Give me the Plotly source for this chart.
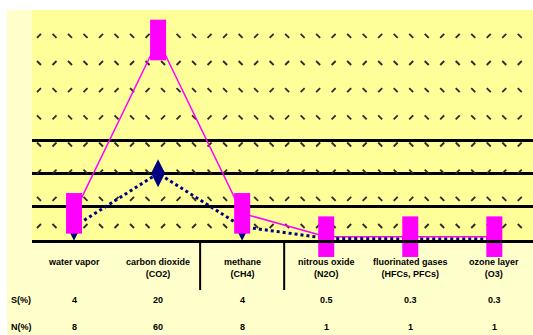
import numpy as np
import plotly.graph_objects as go

# Categories and the two series shown in the chart and its data table
categories = ["water vapor", "carbon dioxide<br>(CO2)", "methane<br>(CH4)",
              "nitrous oxide<br>(N2O)", "fluorinated gases<br>(HFCs, PFCs)", "ozone layer<br>(O3)"]
row_labels = ["S(%)", "N(%)"]
series_navy = [4, 20, 4, 0.5, 0.3, 0.3]
series_pink = [8, 60, 8, 1, 1, 1]

W, H = 533, 335
L, T, B = 32, 10, 95          # plot area margins (px)
PH = H - T - B                # plot height in px
PW = W - L                    # plot width in px
x_range = [-0.5, 5.46]
y_range = [0, 69]

PINK = "#FF00FF"
NAVY = "#000080"

fig = go.Figure()

# Background texture of small dashes across the plot area
tex_x = x_range[0] + 0.083 + 0.1845 * np.arange(33)
tex_y = 4.2 + 8.15 * np.arange(8)
ne_x, ne_y, nw_x, nw_y = [], [], [], []
for j, yy in enumerate(tex_y):
    for i, xx in enumerate(tex_x):
        if (i * 7 + j * 3 + (i * j) % 3) % 5 < 2:
            ne_x.append(xx); ne_y.append(yy)
        else:
            nw_x.append(xx); nw_y.append(yy)
for sx, sy, sym in [(ne_x, ne_y, "line-ne"), (nw_x, nw_y, "line-nw")]:
    fig.add_trace(go.Scatter(
        x=sx, y=sy, mode="markers", hoverinfo="skip", showlegend=False,
        marker=dict(symbol=sym, size=4, color="#2a2a2a",
                    line=dict(color="#2a2a2a", width=1.8)),
    ))

xs = list(range(len(categories)))

# Pink series: thin line with tall rectangular markers
fig.add_trace(go.Scatter(
    x=xs, y=series_pink, mode="lines", showlegend=False, hoverinfo="skip",
    line=dict(color=PINK, width=1.5),
))
# Navy series: dotted line with tall diamonds
fig.add_trace(go.Scatter(
    x=xs, y=series_navy, mode="lines+markers", showlegend=False, hoverinfo="skip",
    line=dict(color=NAVY, width=3, dash="dot"),
    marker=dict(symbol="diamond-tall", size=20, color=NAVY,
                line=dict(color=NAVY, width=0)),
    cliponaxis=False,
))
fig.add_trace(go.Scatter(
    x=xs, y=series_pink, mode="markers", showlegend=False, hoverinfo="skip",
    marker=dict(symbol="line-ns", size=29, color=PINK,
                line=dict(color=PINK, width=16)),
    cliponaxis=False,
))

def py(p):
    """Convert a pixel row below the plot top into paper y."""
    return (H - B - p) / PH

shapes = [
    # chart area behind everything
    dict(type="rect", xref="paper", yref="paper",
         x0=(7 - L) / PW, x1=1.01, y0=py(H), y1=py(T),
         fillcolor="#FFFFCC", line=dict(width=0), layer="below"),
    dict(type="rect", xref="paper", yref="paper",
         x0=0, x1=1, y0=0, y1=1,
         fillcolor="#FFFF99", line=dict(width=0), layer="below"),
]
# table column dividers
for xv in [1.5, 2.5]:
    shapes.append(dict(type="line", xref="x", yref="paper",
                       x0=xv, x1=xv, y0=0, y1=py(290),
                       line=dict(color="black", width=2)))

annotations = []
font = dict(family="Liberation Sans, Arial, sans-serif", size=9, color="black")
for i, c in enumerate(categories):
    annotations.append(dict(x=i, y=py(255), xref="x", yref="paper", text=f"<b>{c}</b>",
                            showarrow=False, yanchor="top", font=font, align="center"))
for r, (lab, vals) in enumerate(zip(row_labels, [series_navy, series_pink])):
    yy = py(300 + 27 * r)
    annotations.append(dict(x=(9 - L) / PW, y=yy, xref="paper", yref="paper",
                            text=f"<b>{lab}</b>", showarrow=False, xanchor="left",
                            yanchor="middle", font=font))
    for i, v in enumerate(vals):
        annotations.append(dict(x=i, y=yy, xref="x", yref="paper", text=f"<b>{v:g}</b>",
                                showarrow=False, yanchor="middle", font=font))

fig.update_layout(
    width=W, height=H,
    margin=dict(l=L, r=0, t=T, b=B),
    paper_bgcolor="white",
    plot_bgcolor="rgba(0,0,0,0)",
    shapes=shapes,
    annotations=annotations,
    xaxis=dict(range=x_range, showgrid=False, zeroline=False, showticklabels=False,
               ticks="", showline=True, linecolor="black", linewidth=2.5),
    yaxis=dict(range=y_range, tickvals=[10, 20, 30], showgrid=True, gridcolor="black",
               gridwidth=2.5, zeroline=False, showticklabels=False, ticks="",
               showline=False),
    showlegend=False,
)

fig.write_html("out.html")
